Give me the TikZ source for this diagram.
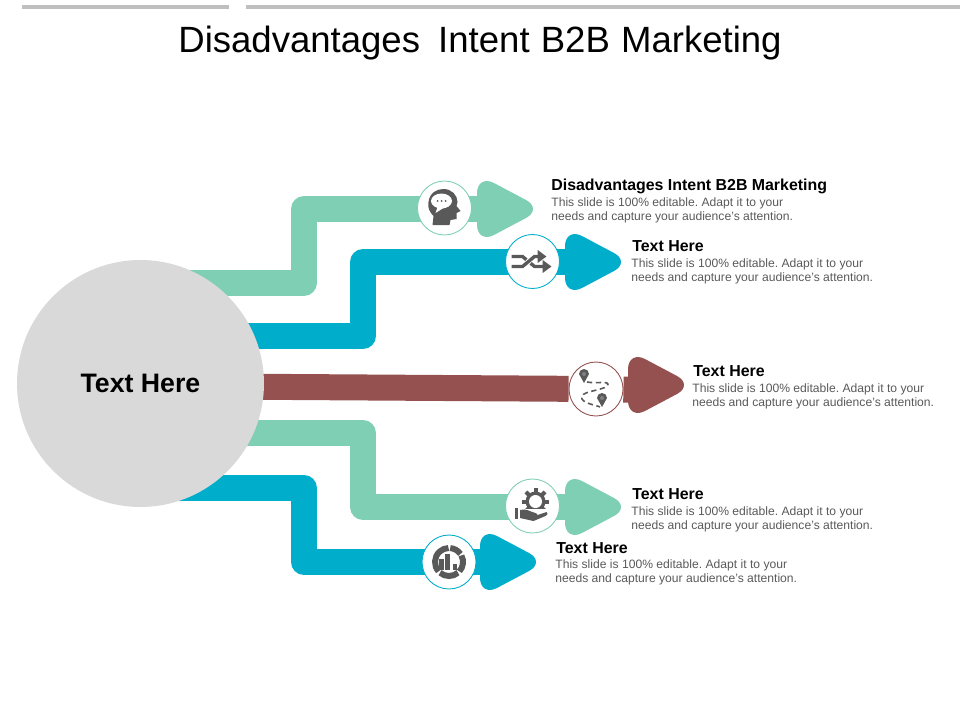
\documentclass[tikz,border=0pt]{standalone}
\usepackage{fontspec}
\setmainfont{Liberation Sans}
\newfontfamily\titlefont[WordSpace=1.1]{Liberation Sans}
\usetikzlibrary{arrows.meta,backgrounds,shapes.geometric}
\definecolor{mint}{HTML}{7FCFB4}
\definecolor{cyan}{HTML}{00AECB}
\definecolor{brown}{HTML}{955050}
\definecolor{hubGray}{HTML}{D9D9D9}
\definecolor{ruleGray}{HTML}{BFBFBF}
\definecolor{iconGray}{HTML}{595959}
\newcommand{\bodytext}{\frenchspacing This slide is 100\% editable. Adapt it to your\\needs and capture your audience's attention.}
\begin{document}
\begin{tikzpicture}[x=0.02cm,y=-0.02cm,
        hub/.style={circle,fill=hubGray,minimum size=4.94cm,inner sep=0pt,font=\bfseries\fontsize{15.2}{18}\selectfont},
        icon/.style={circle,draw,fill=white,minimum size=1.08cm,inner sep=0pt,line width=0.5pt},
        head/.style={isosceles triangle,isosceles triangle stretches,shape border rotate=0,rounded corners=11pt,
            minimum width=1.4cm,minimum height=1.32cm,inner sep=0pt,outer sep=0pt,anchor=lower side},
        flow/.style={line width=0.52cm,line join=round},
        heading/.style={anchor=west,inner sep=0pt,font=\bfseries\fontsize{9.05}{11}\selectfont},
        body/.style={anchor=west,inner sep=0pt,align=left,text=iconGray,font=\fontsize{6.9}{7.9}\selectfont},
        glyph/.style={fill=iconGray,draw=none}]
        \useasboundingbox (0,0) rectangle (960,720);

        \draw[ruleGray, line width=2pt] (22,7) coordinate (ruleA) -- (229,7) coordinate (ruleB);
        \draw[ruleGray, line width=2pt] (246,7) coordinate (ruleC) -- (960,7) coordinate (ruleD);
        \node[inner sep=0pt,font=\titlefont\fontsize{20.8}{25}\selectfont] (title) at (480,43) {Disadvantages\hspace{4pt} Intent B2B Marketing};

        \node[hub] (hub) at (140.5,383.5) {\raisebox{-0.5pt}{Text Here}};

        \node[head,fill=mint] (headA) at (477,209) {};
        \node[head,fill=cyan] (headB) at (565,262) {};
        \node[head,fill=brown] (headC) at (628,385) {};
        \node[head,fill=mint] (headD) at (565,507) {};
        \node[head,fill=cyan] (headE) at (480,562) {};

        \node[icon,draw=mint] (iconA) at (444.5,208) {};
        \node[icon,draw=cyan] (iconB) at (532.5,261.5) {};
        \node[icon,draw=brown] (iconC) at (596,389) {};
        \node[icon,draw=mint] (iconD) at (532.5,506) {};
        \node[icon,draw=cyan] (iconE) at (449,562) {};

        \coordinate (turnA) at (304,282.5);
        \coordinate (turnB) at (363,336);
        \coordinate (startC) at (140,386);
        \coordinate (endC) at (645,390);
        \coordinate (turnD) at (363,433);
        \coordinate (turnE) at (304,488);

        \begin{scope}[on background layer]
        \draw[flow, mint] (hub |- turnA) -- (turnA) |- (headA);
        \draw[flow, cyan] (hub |- turnB) -- (turnB) |- (headB);
        \draw[flow, brown] (hub |- startC) -- (iconC) -- (endC);
        \draw[flow, mint] (hub |- turnD) -- (turnD) |- (headD);
        \draw[flow, cyan] (hub |- turnE) -- (turnE) |- (headE);
        \end{scope}

        % head with speech bubble
        \begin{scope}[shift={(iconA)}]
        \fill[glyph] (-12,17) -- (-11,8) .. controls (-15,4) and (-17,0) .. (-16,-6)
            .. controls (-15,-15) and (-8,-19) .. (-1,-19) .. controls (7,-19) and (13,-13) .. (13,-6)
            -- (12,-2) -- (16,3) -- (12,5) -- (12,11) -- (6,12) -- (5,17) -- cycle;
        \fill[white] (-3,-7) ellipse (10.5 and 7.5);
        \fill[white] (-7,-1) -- (-9,5) -- (-1,0) -- cycle;
        \foreach \dotx in {-7,-3,1}
            \fill[glyph] (\dotx,-7) circle (1);
        \end{scope}

        % crossing arrows
        \begin{scope}[shift={(iconB)}]
        \draw[iconGray, line width=1.9pt, -{Triangle[length=5pt,width=7pt]}] (-21,-5) -- (-10,-5) -- (2,5) -- (19,5);
        \draw[white, line width=3pt] (-6,-1.7) -- (-2,1.7);
        \draw[iconGray, line width=1.9pt, -{Triangle[length=5pt,width=7pt]}] (-21,5) -- (-10,5) -- (2,-5) -- (14,-5);
        \end{scope}

        % route with two pins
        \begin{scope}[shift={(iconC)}]
        \draw[iconGray, line width=0.9pt, densely dashed] (-9,-7) .. controls (0,-5) and (16,-9) .. (11,-3)
            .. controls (6,2) and (-18,2) .. (-14,10) .. controls (-11,15) and (0,16) .. (4,18);
        \foreach \pinx/\piny in {-12/-15,6/9}{
            \fill[glyph] (\pinx,\piny+9) -- (\pinx-5,\piny) arc (180:360:5) -- cycle;
            \fill[gray] (\pinx,\piny) circle (2);
        }
        \end{scope}

        % gear over hand
        \begin{scope}[shift={(iconD)}]
        \foreach \toothangle in {0,45,...,315}
            \fill[glyph, rotate around={\toothangle:(3,-4.5)}] (1,-18) rectangle (5,-13);
        \fill[glyph] (3,-4.5) circle (10);
        \fill[white] (3,-4.5) circle (6.5);
        \fill[white] (-13,3) rectangle (16,15);
        \fill[glyph] (-18,2) rectangle (-14.5,13);
        \fill[glyph] (-12.5,4) .. controls (-6,2) and (-2,6) .. (3,7) .. controls (6,8) and (5,10) .. (2,10)
            -- (14,6) .. controls (16,7) and (15,9) .. (13,10) -- (1,15) -- (-12.5,12) -- cycle;
        \end{scope}

        % ring chart with bars
        \begin{scope}[shift={(iconE)}]
        \foreach \arcfrom/\arcto in {-85/-35,-28/42,50/130,138/268}
            \draw[iconGray, line width=3.4pt] (\arcfrom:14) arc (\arcfrom:\arcto:14);
        \fill[glyph] (-9.7,-3.3) rectangle (-5.3,8.3);
        \fill[glyph] (-3.7,-8.3) rectangle (1.3,8.3);
        \fill[glyph] (3.7,1.7) rectangle (8,8.3);
        \end{scope}

        \node[heading] (labelA) at (551,186) {Disadvantages Intent B2B Marketing};
        \node[body] (bodyA) at (551,210) {\bodytext};
        \node[heading] (labelB) at (632,246) {Text Here};
        \node[body] (bodyB) at (631,271) {\bodytext};
        \node[heading] (labelC) at (693,371) {Text Here};
        \node[body] (bodyC) at (692,396) {\bodytext};
        \node[heading] (labelD) at (632,494) {Text Here};
        \node[body] (bodyD) at (631,519) {\bodytext};
        \node[heading] (labelE) at (556,548) {Text Here};
        \node[body] (bodyE) at (555,572) {\bodytext};
\end{tikzpicture}
\end{document}
